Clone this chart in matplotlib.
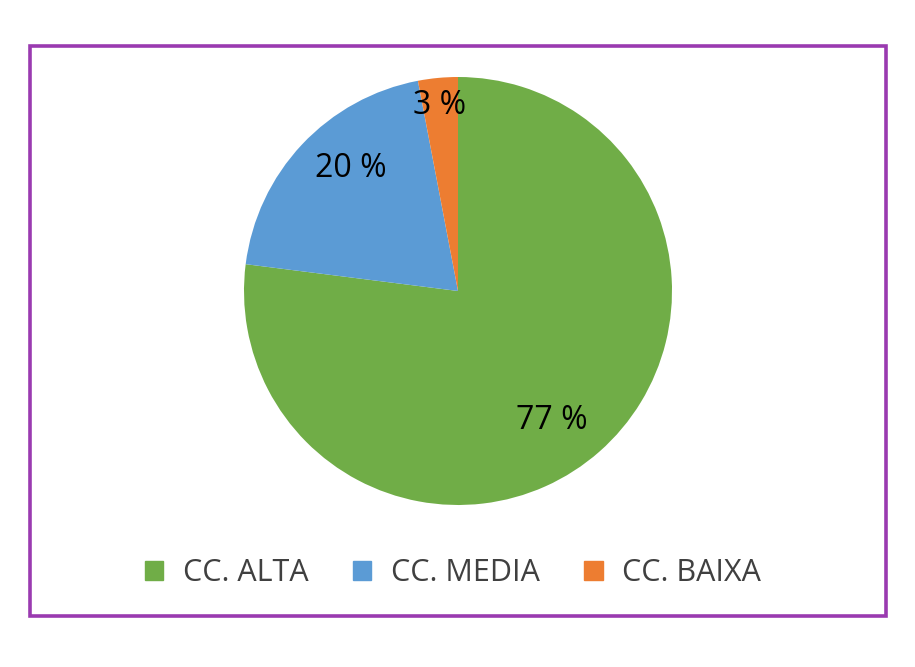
import matplotlib.pyplot as plt
from matplotlib.patches import Rectangle, Patch
import numpy as np

categorias = ['CC. ALTA', 'CC. MEDIA', 'CC. BAIXA']
valores = [77, 20, 3]
colores = ['#70AD47', '#5B9BD5', '#ED7D31']
# posicion de cada etiqueta: distancia al centro (fraccion del radio) y giro respecto a la bisectriz
dist_etiquetas = [0.745, 0.76, 0.87]
giro_etiquetas = [-5.5, -5.5, 0.4]

plt.rcParams['font.family'] = ['Open Sans', 'DejaVu Sans']

fig = plt.figure(figsize=(9.15, 6.67), dpi=100)
W, H = 915, 667

# marco morado alrededor del grafico
fig.patches.append(Rectangle((30 / W, 1 - 616 / H), 856 / W, 570 / H,
                             transform=fig.transFigure, fill=False,
                             edgecolor='#9a3ab0', linewidth=2.6))

cx, cy, r = 458, 291, 214
ax = fig.add_axes([(cx - r) / W, (H - cy - r) / H, 2 * r / W, 2 * r / H])
wedges, textos, autotextos = ax.pie(valores, colors=colores, startangle=90,
                                    counterclock=False, radius=1,
                                    autopct=lambda p: '%d %%' % round(p),
                                    textprops={'fontsize': 23, 'color': 'black'})
for w, t, d, g in zip(wedges, autotextos, dist_etiquetas, giro_etiquetas):
    ang = np.deg2rad((w.theta1 + w.theta2) / 2 + g)
    t.set_position((d * np.cos(ang), d * np.sin(ang)))
ax.set_xlim(-1, 1)
ax.set_ylim(-1, 1)
ax.set_aspect('equal')
ax.axis('off')

handles = [Patch(facecolor=c, edgecolor=c) for c in colores]
fig.legend(handles, categorias, loc='center', bbox_to_anchor=(453 / W, 1 - 573 / H),
           ncol=3, frameon=False, fontsize=22, handlelength=0.6, handleheight=0.6,
           handletextpad=0.65, columnspacing=1.45, labelcolor='#404040')

fig.savefig('out.png', dpi=100)
